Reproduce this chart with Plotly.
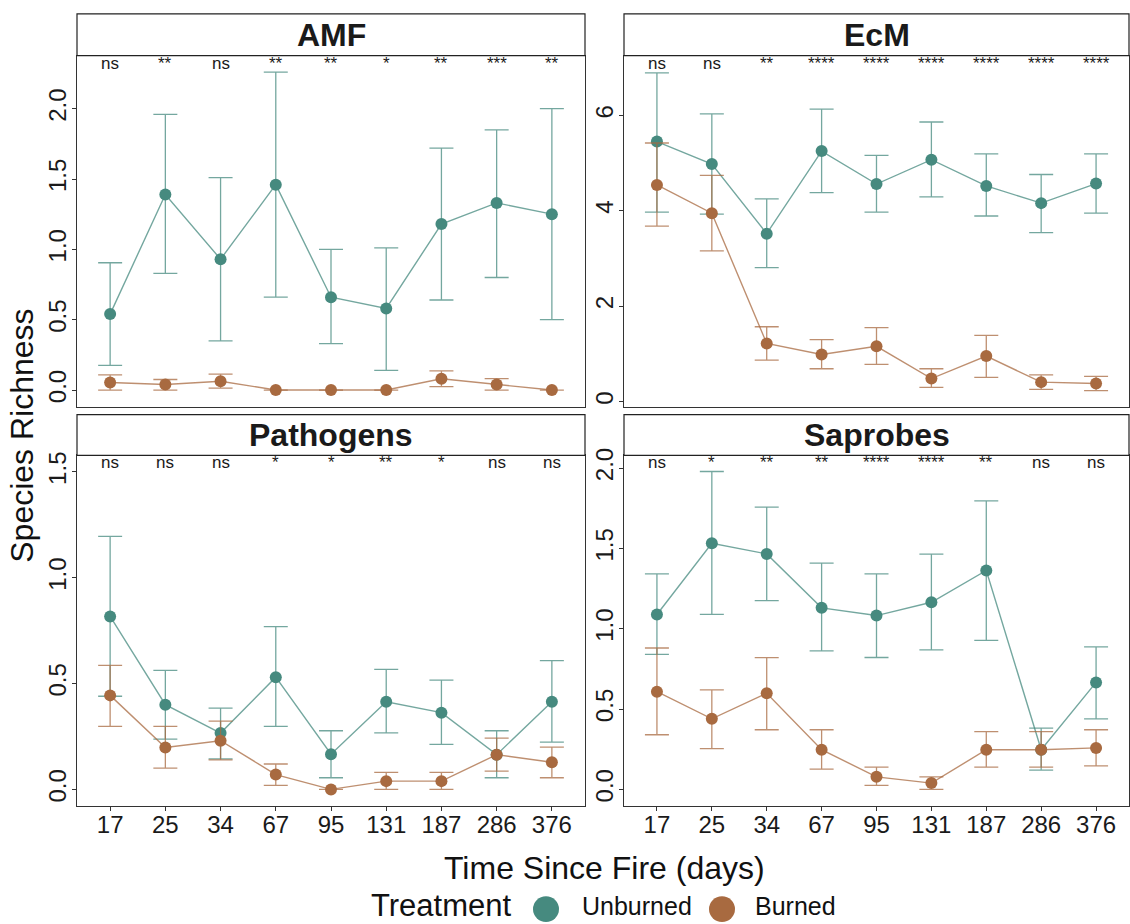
import plotly.graph_objects as go

days = ["17", "25", "34", "67", "95", "131", "187", "286", "376"]
panels = ["AMF", "EcM", "Pathogens", "Saprobes"]

# ---- AMF ----
amf_unb_mean = [0.54, 1.39, 0.93, 1.46, 0.66, 0.58, 1.18, 1.33, 1.25]
amf_unb_hi = [0.905, 1.96, 1.51, 2.26, 1.00, 1.01, 1.72, 1.85, 2.00]
amf_unb_lo = [0.176, 0.83, 0.35, 0.66, 0.33, 0.14, 0.64, 0.80, 0.50]
amf_bur_mean = [0.054, 0.04, 0.063, 0.0, 0.0, 0.0, 0.08, 0.04, 0.0]
amf_bur_hi = [0.108, 0.075, 0.113, 0.0, 0.0, 0.0, 0.136, 0.082, 0.0]
amf_bur_lo = [0.0, 0.0, 0.014, 0.0, 0.0, 0.0, 0.024, 0.0, 0.0]
amf_sig = ["ns", "**", "ns", "**", "**", "*", "**", "***", "**"]

# ---- EcM ----
ecm_unb_mean = [5.45, 4.98, 3.52, 5.25, 4.56, 5.07, 4.52, 4.16, 4.57]
ecm_unb_hi = [6.89, 6.03, 4.25, 6.13, 5.16, 5.86, 5.19, 4.76, 5.19]
ecm_unb_lo = [3.97, 3.93, 2.81, 4.38, 3.97, 4.29, 3.89, 3.54, 3.95]
ecm_bur_mean = [4.54, 3.95, 1.22, 0.99, 1.16, 0.485, 0.956, 0.41, 0.38]
ecm_bur_hi = [5.42, 4.74, 1.57, 1.30, 1.55, 0.69, 1.39, 0.56, 0.53]
ecm_bur_lo = [3.68, 3.16, 0.87, 0.69, 0.78, 0.30, 0.51, 0.26, 0.23]
ecm_sig = ["ns", "ns", "**", "****", "****", "****", "****", "****", "****"]

# ---- Pathogens ----
pat_unb_mean = [0.817, 0.40, 0.266, 0.53, 0.166, 0.414, 0.3625, 0.164, 0.414]
pat_unb_hi = [1.195, 0.5625, 0.384, 0.769, 0.277, 0.567, 0.516, 0.277, 0.608]
pat_unb_lo = [0.44, 0.2375, 0.144, 0.298, 0.055, 0.267, 0.2125, 0.055, 0.223]
pat_bur_mean = [0.444, 0.198, 0.23, 0.07, 0.0, 0.039, 0.039, 0.164, 0.128]
pat_bur_hi = [0.586, 0.298, 0.322, 0.12, 0.0, 0.08, 0.08, 0.242, 0.20]
pat_bur_lo = [0.298, 0.10, 0.139, 0.019, 0.0, 0.0, 0.0, 0.086, 0.055]
pat_sig = ["ns", "ns", "ns", "*", "*", "**", "*", "ns", "ns"]

# ---- Saprobes ----
sap_unb_mean = [1.089, 1.532, 1.466, 1.13, 1.082, 1.165, 1.363, 0.247, 0.666]
sap_unb_hi = [1.342, 1.979, 1.757, 1.408, 1.342, 1.464, 1.796, 0.381, 0.887]
sap_unb_lo = [0.841, 1.089, 1.175, 0.862, 0.821, 0.868, 0.928, 0.12, 0.439]
sap_bur_mean = [0.608, 0.439, 0.598, 0.247, 0.078, 0.039, 0.247, 0.247, 0.258]
sap_bur_hi = [0.88, 0.62, 0.82, 0.371, 0.138, 0.078, 0.359, 0.359, 0.371]
sap_bur_lo = [0.34, 0.254, 0.371, 0.126, 0.025, 0.0, 0.138, 0.138, 0.146]
sap_sig = ["ns", "*", "**", "**", "****", "****", "**", "ns", "ns"]

y_ranges = [[-0.12, 2.377], [-0.11, 7.25], [-0.078, 1.578], [-0.103, 2.08]]
y_ticks = [[0, 0.5, 1.0, 1.5, 2.0], [0, 2, 4, 6], [0, 0.5, 1.0, 1.5], [0, 0.5, 1.0, 1.5, 2.0]]
y_fmt = [".1f", "d", ".1f", ".1f"]

data = [
    (amf_unb_mean, amf_unb_hi, amf_unb_lo, amf_bur_mean, amf_bur_hi, amf_bur_lo, amf_sig),
    (ecm_unb_mean, ecm_unb_hi, ecm_unb_lo, ecm_bur_mean, ecm_bur_hi, ecm_bur_lo, ecm_sig),
    (pat_unb_mean, pat_unb_hi, pat_unb_lo, pat_bur_mean, pat_bur_hi, pat_bur_lo, pat_sig),
    (sap_unb_mean, sap_unb_hi, sap_unb_lo, sap_bur_mean, sap_bur_hi, sap_bur_lo, sap_sig),
]

TEAL = "#468A7F"
BROWN = "#A86A40"
TEAL_L = "rgba(70,138,127,0.75)"
BROWN_L = "rgba(168,106,64,0.75)"
FONT = "Liberation Sans, Arial, Helvetica, sans-serif"
W, H = 1130, 924

# panel geometry (pixels)
x_cols = [(77, 585), (624, 1129)]
plot_rows = [(49, 403), (451.7, 805)]
strip_rows = [(7, 49), (410.7, 451.7)]


def px_x(v):
    return v / W


def px_y(v):
    return 1 - v / H


fig = go.Figure()
layout = {}
shapes = []
annotations = []

for i, name in enumerate(panels):
    r, c = divmod(i, 2)
    suffix = "" if i == 0 else str(i + 1)
    xa, ya = "x" + suffix, "y" + suffix
    um, uh, ul, bm, bh, bl, sig = data[i]

    for mean, hi, lo, col, coll, lab in [
        (um, uh, ul, TEAL, TEAL_L, "Unburned"),
        (bm, bh, bl, BROWN, BROWN_L, "Burned"),
    ]:
        fig.add_trace(go.Scatter(
            x=days, y=mean, name=lab, mode="lines+markers",
            xaxis=xa, yaxis=ya, showlegend=False,
            line=dict(color=coll, width=1.4),
            marker=dict(color=col, size=12, line=dict(width=0)),
            error_y=dict(type="data", symmetric=False,
                         array=[h - m for h, m in zip(hi, mean)],
                         arrayminus=[m - l for m, l in zip(mean, lo)],
                         color=coll, thickness=1.3, width=12),
            hoverinfo="skip",
        ))

    x0, x1 = x_cols[c]
    py0, py1 = plot_rows[r]
    sy0, sy1 = strip_rows[r]
    bottom = r == 1
    layout["xaxis" + suffix] = dict(
        domain=[px_x(x0), px_x(x1)], anchor=ya, type="category",
        categoryorder="array", categoryarray=days, range=[-0.6, 8.6],
        showline=True, mirror=True, linecolor="#333333", linewidth=1.2,
        showgrid=False, zeroline=False,
        ticks="outside" if bottom else "", ticklen=4, tickcolor="#333333",
        showticklabels=bottom, ticklabelstandoff=-7,
        tickfont=dict(family=FONT, size=24, color="#1a1a1a"),
    )
    layout["yaxis" + suffix] = dict(
        domain=[px_y(py1), px_y(py0)], anchor=xa, range=y_ranges[i],
        tickvals=y_ticks[i], tickformat=y_fmt[i], tickangle=-90,
        showline=True, mirror=True, linecolor="#333333", linewidth=1.2,
        showgrid=False, zeroline=False,
        ticks="outside", ticklen=4, tickcolor="#333333", ticklabelstandoff=-4,
        tickfont=dict(family=FONT, size=24, color="#1a1a1a"),
    )
    # strip
    shapes.append(dict(type="rect", xref="paper", yref="paper",
                       x0=px_x(x0), x1=px_x(x1), y0=px_y(sy1), y1=px_y(sy0),
                       line=dict(color="#222222", width=1.2), fillcolor="white"))
    annotations.append(dict(text=name, xref="paper", yref="paper",
                            x=(px_x(x0) + px_x(x1)) / 2, y=(px_y(sy0) + px_y(sy1)) / 2,
                            xanchor="center", yanchor="middle", showarrow=False,
                            font=dict(family=FONT, size=32, color="#1a1a1a", weight="bold")))
    # significance labels (category index positions)
    for k, s in enumerate(sig):
        annotations.append(dict(text=s, xref=xa, yref=ya + " domain", x=k, y=0.979,
                                xanchor="center", yanchor="middle", showarrow=False,
                                font=dict(family=FONT, size=17, color="#1a1a1a")))

# axis titles
annotations.append(dict(text="Species Richness", xref="paper", yref="paper",
                        x=px_x(22), y=px_y(432), textangle=-90, showarrow=False,
                        xanchor="center", yanchor="middle",
                        font=dict(family=FONT, size=32, color="#111111")))
annotations.append(dict(text="Time Since Fire (days)", xref="paper", yref="paper",
                        x=px_x(604), y=px_y(868), showarrow=False,
                        xanchor="center", yanchor="middle",
                        font=dict(family=FONT, size=32, color="#111111")))

# legend (manual)
legend_y = 905
annotations.append(dict(text="Treatment", xref="paper", yref="paper",
                        x=px_x(514), y=px_y(legend_y), showarrow=False,
                        xanchor="right", yanchor="middle",
                        font=dict(family=FONT, size=31, color="#111111")))
for cx, col, lab, tx in [(546, TEAL, "Unburned", 580), (722, BROWN, "Burned", 753)]:
    rad = 13
    cy = 909
    shapes.append(dict(type="circle", xref="paper", yref="paper",
                       x0=px_x(cx - rad), x1=px_x(cx + rad),
                       y0=px_y(cy + rad), y1=px_y(cy - rad),
                       fillcolor=col, line=dict(width=0)))
    annotations.append(dict(text=lab, xref="paper", yref="paper",
                            x=px_x(tx), y=px_y(legend_y + 1), showarrow=False,
                            xanchor="left", yanchor="middle",
                            font=dict(family=FONT, size=25, color="#111111")))

fig.update_layout(
    width=W, height=H, margin=dict(l=0, r=0, t=0, b=0),
    paper_bgcolor="white", plot_bgcolor="white",
    showlegend=False, shapes=shapes, annotations=annotations,
    **layout,
)

fig.write_html("out.html")
